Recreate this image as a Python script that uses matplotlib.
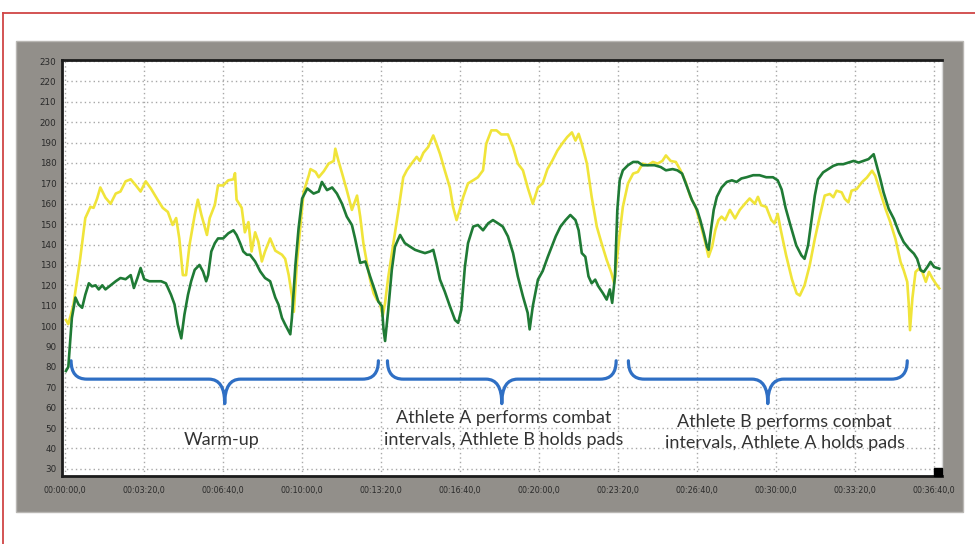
import matplotlib
matplotlib.use("Agg")
import matplotlib.pyplot as plt
from matplotlib.patches import Rectangle, PathPatch
from matplotlib.path import Path
from matplotlib.lines import Line2D

# Athlete heart rate (bpm) vs session time (s)
green_t = [2, 8, 17, 26, 34, 43, 51, 60, 68, 77, 85, 94, 102, 115, 128, 140, 153, 166, 174,
           183, 191, 200, 213, 226, 243, 255, 268, 277, 285, 294, 302, 311, 319, 328, 340,
           349, 357, 362, 370, 379, 387, 400, 413, 426, 434, 443, 451, 460, 468, 481, 494,
           506, 519, 532, 540, 549, 557, 570, 574, 583, 591, 600, 613, 629, 642, 650, 663,
           676, 688, 701, 713, 726, 734, 747, 760, 772, 785, 793, 802, 806, 810, 818, 827,
           835, 848, 860, 873, 886, 898, 911, 924, 932, 940, 949, 961, 974, 987, 995, 1003,
           1012, 1020, 1033, 1045, 1058, 1071, 1083, 1096, 1108, 1121, 1134, 1146, 1159,
           1171, 1176, 1184, 1197, 1209, 1222, 1242, 1254, 1267, 1279, 1292, 1300, 1308,
           1317, 1325, 1333, 1342, 1350, 1362, 1371, 1379, 1385, 1392, 1398, 1404, 1412,
           1425, 1438, 1450, 1462, 1475, 1492, 1508, 1521, 1538, 1550, 1562, 1575, 1587,
           1600, 1608, 1617, 1625, 1629, 1635, 1642, 1650, 1662, 1675, 1688, 1700, 1712,
           1725, 1742, 1758, 1775, 1792, 1804, 1814, 1824, 1834, 1851, 1864, 1872, 1881,
           1889, 1898, 1906, 1919, 1932, 1945, 1957, 1970, 1983, 1996, 2009, 2021, 2034,
           2047, 2055, 2064, 2072, 2085, 2098, 2111, 2123, 2136, 2149, 2157, 2166, 2174,
           2183, 2191, 2200, 2213]
green_hr = [78, 80, 104, 114, 110.6, 109, 115.4, 121, 119.5, 120, 118, 120, 118, 120, 122,
            123.6, 123, 125, 118.7, 123.6, 128.5, 123, 122, 122, 122, 121, 115.4, 110.6,
            100.8, 94, 105.7, 115.4, 122, 127.6, 130, 126.8, 122, 125, 136.6, 140.7, 143,
            143, 145.5, 147, 144.7, 140.7, 136.6, 135, 135, 131.7, 126.8, 123.6, 122, 114,
            110.6, 104, 100.8, 96, 104, 130, 148, 162.6, 167.5, 165, 166, 170.7, 166.7, 168,
            165, 160, 153.7, 149.6, 143, 131, 131.7, 124.4, 117, 112, 109.8, 98.4, 92.7,
            108, 127.6, 139, 144.7, 140.7, 139, 137.4, 136.6, 135.8, 136.6, 137.4, 131,
            122.8, 117, 109.8, 103, 101.6, 108, 129, 140.7, 148.8, 149.6, 147, 150.4, 152,
            150.4, 148.8, 144, 135.8, 124.4, 114.6, 106.5, 98.4, 109.8, 122.8, 127, 134,
            144, 148.8, 152, 154.5, 152, 147, 135.8, 134, 124.4, 121, 122.8, 119.5, 116,
            113, 118, 111.4, 124.4, 157, 171.5, 176.4, 178.9, 180.5, 180.5, 178.9, 178.9,
            178.9, 178, 176.4, 177, 176.4, 174.8, 168, 161.8, 157, 152, 145.5, 139, 137.4,
            147, 157, 163.4, 168, 170.7, 171.5, 170.7, 172.4, 173, 174, 174, 173, 173,
            171.5, 167, 158, 151, 139.6, 134.7, 133, 139.6, 151, 164, 172, 175.4, 177,
            178.6, 179.4, 179.4, 180.2, 181, 180.2, 181, 181.9, 184.3, 178.6, 172, 165.6,
            157.5, 152.6, 146, 141.2, 138, 135.5, 133, 127.4, 126.6, 129, 131.5, 129, 128.2]

yellow_t = [2, 8, 15, 21, 38, 51, 64, 72, 81, 89, 102, 115, 128, 140, 153, 166, 179, 191,
            204, 217, 234, 247, 260, 272, 281, 289, 298, 306, 315, 328, 336, 345, 353, 359,
            366, 379, 387, 400, 413, 426, 430, 434, 447, 455, 464, 472, 481, 489, 498, 506,
            519, 532, 549, 557, 566, 574, 579, 587, 596, 604, 617, 621, 634, 642, 655, 667,
            680, 684, 692, 701, 713, 726, 739, 747, 755, 764, 772, 781, 789, 797, 804, 810,
            818, 831, 844, 856, 865, 877, 890, 898, 907, 919, 932, 940, 949, 961, 974, 982,
            991, 999, 1008, 1020, 1033, 1045, 1058, 1066, 1079, 1092, 1104, 1121, 1134,
            1146, 1159, 1171, 1184, 1197, 1209, 1221, 1233, 1246, 1258, 1271, 1283, 1292,
            1300, 1308, 1321, 1333, 1346, 1358, 1371, 1383, 1390, 1396, 1404, 1412, 1425,
            1438, 1450, 1462, 1475, 1488, 1500, 1512, 1521, 1533, 1546, 1558, 1571, 1583,
            1596, 1608, 1621, 1629, 1638, 1646, 1654, 1662, 1671, 1683, 1696, 1708, 1721,
            1733, 1746, 1754, 1762, 1775, 1788, 1796, 1804, 1812, 1825, 1840, 1852, 1860,
            1872, 1885, 1898, 1911, 1923, 1936, 1945, 1953, 1966, 1974, 1983, 1991, 2004,
            2017, 2030, 2043, 2051, 2064, 2077, 2089, 2102, 2115, 2123, 2132, 2136, 2139,
            2145, 2153, 2162, 2170, 2179, 2187, 2196, 2204, 2213]
yellow_hr = [103, 101, 106, 110.6, 133, 153, 158.5, 158, 162.6, 168, 163, 160, 165, 166,
             171, 172, 169, 166, 171, 167.5, 162, 158, 156, 149.6, 153, 143, 125, 125, 140,
             154.5, 162, 154.5, 149, 144.7, 153, 159.5, 169, 169, 171.5, 172, 175, 162, 158,
             146, 151, 136.6, 146, 141.5, 131.7, 136.6, 143, 137, 135, 133, 125, 115, 107,
             131.7, 149.6, 166, 174, 177, 175.6, 173, 176, 179.7, 181, 187, 181, 175, 166.7,
             157, 164, 153.7, 140.7, 131, 122.8, 116, 113, 111.4, 105, 111.4, 124, 140.7,
             157, 173, 176.4, 179.7, 183, 181, 185, 187.8, 193.5, 189.4, 184.5, 176.4, 168,
             158.5, 152, 157, 163.4, 170, 171.5, 173, 176.4, 189.4, 196, 196, 194, 194,
             187.8, 179.7, 176.4, 168, 160, 168, 170, 177, 181, 186, 189.4, 192.7, 195, 191,
             194.3, 189.4, 179.7, 163.4, 148.8, 140.7, 132.5, 126, 121, 131, 145.5, 158.5,
             170, 174.8, 175.6, 179.7, 178.9, 180.5, 179.7, 181, 183.7, 181, 180.5, 176.4,
             170.7, 163.4, 158.5, 150.4, 140.7, 134, 139, 147, 152, 153.7, 152, 157, 152.8,
             157, 160, 162.6, 160, 163.4, 159.3, 158.5, 152, 150.4, 155, 147, 135, 123, 116,
             115, 120, 129.8, 142.8, 154.2, 164, 164.8, 163.2, 166.4, 165.6, 162.4, 160.7,
             166.4, 167.2, 170.5, 172.9, 176.2, 173.7, 165.6, 157.5, 151, 142.8, 131.5,
             127.4, 121.7, 110.3, 98, 113.6, 126.6, 128.2, 126.6, 121.7, 126.6, 123.3,
             120.9, 118.5]

x_ticks = list(range(0, 2201, 200))
x_labels = ["00:00:00,0", "00:03:20,0", "00:06:40,0", "00:10:00,0", "00:13:20,0",
            "00:16:40,0", "00:20:00,0", "00:23:20,0", "00:26:40,0", "00:30:00,0",
            "00:33:20,0", "00:36:40,0"]
y_ticks = list(range(30, 231, 10))

# phases: (start, end) in seconds, and their captions
phase_start = [15, 816, 1426]
phase_end = [793, 1395, 2132]
phase_text = ["Warm-up",
              "Athlete A performs combat\nintervals, Athlete B holds pads",
              "Athlete B performs combat\nintervals, Athlete A holds pads"]
text_x = [396, 1110, 1822]
text_y = [44, 49.5, 48]


def brace(ax, a, b, top=83, flat=74, tip=62, w=40):
    m = (a + b) / 2
    verts = [(a, top), (a, flat), (a + w, flat),
             (m - w, flat), (m, flat), (m, tip),
             (m, flat), (m + w, flat),
             (b - w, flat), (b, flat), (b, top)]
    codes = [Path.MOVETO, Path.CURVE3, Path.CURVE3,
             Path.LINETO, Path.CURVE3, Path.CURVE3,
             Path.CURVE3, Path.CURVE3,
             Path.LINETO, Path.CURVE3, Path.CURVE3]
    ax.add_patch(PathPatch(Path(verts, codes), fill=False, ec="#2f6fc4", lw=2.3,
                           capstyle="round", joinstyle="round"))


fig = plt.figure(figsize=(9.75, 5.44), dpi=100)
fig.patch.set_facecolor("white")

# grey instrument panel + red frame
fig.add_artist(Rectangle((16 / 975, 32 / 544), 947 / 975, 471 / 544,
                         transform=fig.transFigure, fc="#928f8a", ec="#b9b7b3", lw=1, zorder=0))
fig.add_artist(Line2D([0.003, 1], [0.976, 0.976], transform=fig.transFigure, color="#d04545", lw=1.3))
fig.add_artist(Line2D([0.003, 0.003], [0, 0.976], transform=fig.transFigure, color="#d04545", lw=1.3))

ax = fig.add_axes([62 / 975, 68 / 544, 880 / 975, 416 / 544])
ax.set_facecolor("white")

ax.plot(yellow_t, yellow_hr, color="#f0e43a", lw=1.9, zorder=3)
ax.plot(green_t, green_hr, color="#1f7a35", lw=1.9, zorder=4)

for a, b in zip(phase_start, phase_end):
    brace(ax, a, b)

for tx, ty, s in zip(text_x, text_y, phase_text):
    ax.text(tx, ty, s, ha="center", va="center", fontsize=13, family="Lato",
            color="#333333", linespacing=1.4, zorder=5)

ax.set_xlim(-8, 2220)
ax.set_ylim(26.5, 230.5)
ax.set_xticks(x_ticks)
ax.set_xticklabels(x_labels)
ax.set_yticks(y_ticks)
ax.tick_params(axis="both", length=0, colors="#2a2a2a")
ax.tick_params(axis="x", labelsize=5.8, pad=7)
ax.tick_params(axis="y", labelsize=6.3, pad=4)
ax.grid(True, color="#a8a8a8", lw=1.0, linestyle=(0, (1, 2.2)))
ax.set_axisbelow(True)

for side in ["left", "bottom", "top"]:
    ax.spines[side].set_color("#1c1c1c")
    ax.spines[side].set_linewidth(2)
ax.spines["right"].set_color("#d8d8d8")
ax.spines["right"].set_linewidth(1)

# little black marker in the lower right corner
ax.plot([0.996], [0.01], marker="s", ms=5.5, color="black", transform=ax.transAxes,
        clip_on=False, zorder=6)

fig.savefig("out.png", dpi=100)
